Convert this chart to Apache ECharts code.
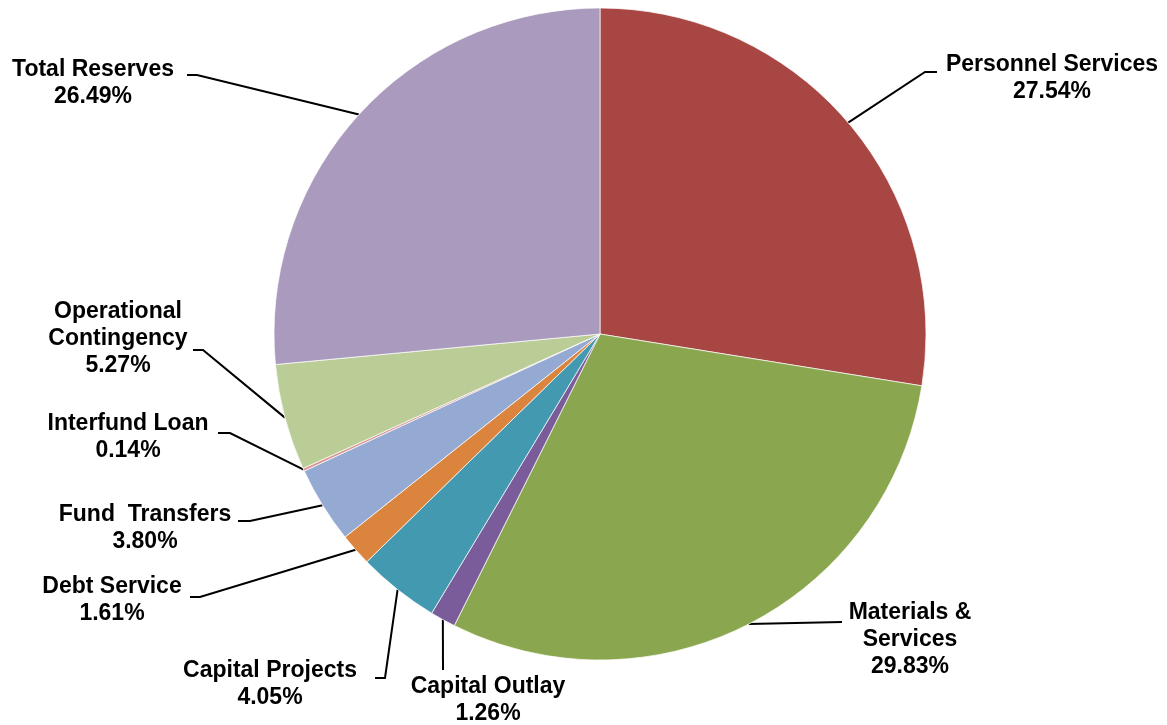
<!DOCTYPE html>
<html>
<head>
<meta charset="utf-8">
<title>Budget Distribution</title>
<script src="https://cdn.jsdelivr.net/npm/echarts@6/dist/echarts.min.js"></script>
<style>
  html, body { margin: 0; padding: 0; background: #fff; }
  #chart { width: 1167px; height: 725px; }
</style>
</head>
<body>
<div id="chart"></div>
<script>
// slice data, clockwise from 12 o'clock
const categories = [
  "Personnel Services", "Materials &\nServices", "Capital Outlay", "Capital Projects",
  "Debt Service", "Fund  Transfers", "Interfund Loan", "Operational\nContingency", "Total Reserves"
];
const percents = [27.54, 29.83, 1.26, 4.05, 1.61, 3.80, 0.14, 5.27, 26.49];

const colors = ["#A84643", "#8AA64E", "#7B5C9A", "#4399AF", "#DB843D", "#95AAD2", "#D99694", "#BACD96", "#A99ABE"];

// label centre + leader line bend/end for each slice
const labelPos = [
  { x: 1052, y: 78, line: [[925, 72], [937, 72]] },
  { x: 910, y: 640, line: [[842, 622], [842, 622]] },
  { x: 488, y: 700, line: [[443, 670], [443, 670]] },
  { x: 270, y: 684, line: [[385, 678], [375, 678]] },
  { x: 112, y: 600, line: [[200, 597], [190, 597]] },
  { x: 145, y: 528, line: [[250, 521], [238, 521]] },
  { x: 128, y: 437, line: [[230, 433], [218, 433]] },
  { x: 118, y: 339, line: [[203, 350], [193, 350]] },
  { x: 93, y: 83, line: [[197, 75], [187, 75]] }
];

const chart = echarts.init(document.getElementById("chart"));

chart.setOption({
  animation: false,
  series: [{
    type: "pie",
    center: [600, 334],
    radius: [0, 326],
    startAngle: 90,
    clockwise: true,
    avoidLabelOverlap: false,
    data: categories.map((c, i) => ({
      name: c,
      value: percents[i],
      itemStyle: { color: colors[i] }
    })),
    itemStyle: { borderColor: "#fff", borderWidth: 0.7 },
    label: {
      show: true,
      position: "outside",
      formatter: p => p.name + "\n" + p.value.toFixed(2) + "%",
      color: "#000",
      fontFamily: "Liberation Sans, Arial, sans-serif",
      fontWeight: "bold",
      fontSize: 23,
      lineHeight: 27,
      align: "center"
    },
    labelLine: {
      show: true,
      length: 10,
      length2: 10,
      lineStyle: { color: "#000", width: 2 }
    },
    labelLayout: params => {
      const pos = labelPos[params.dataIndex];
      const start = params.labelLinePoints ? params.labelLinePoints[0] : pos.line[0];
      return {
        x: pos.x,
        y: pos.y,
        align: "center",
        verticalAlign: "middle",
        labelLinePoints: [start, pos.line[0], pos.line[1]]
      };
    }
  }]
});
</script>
</body>
</html>
